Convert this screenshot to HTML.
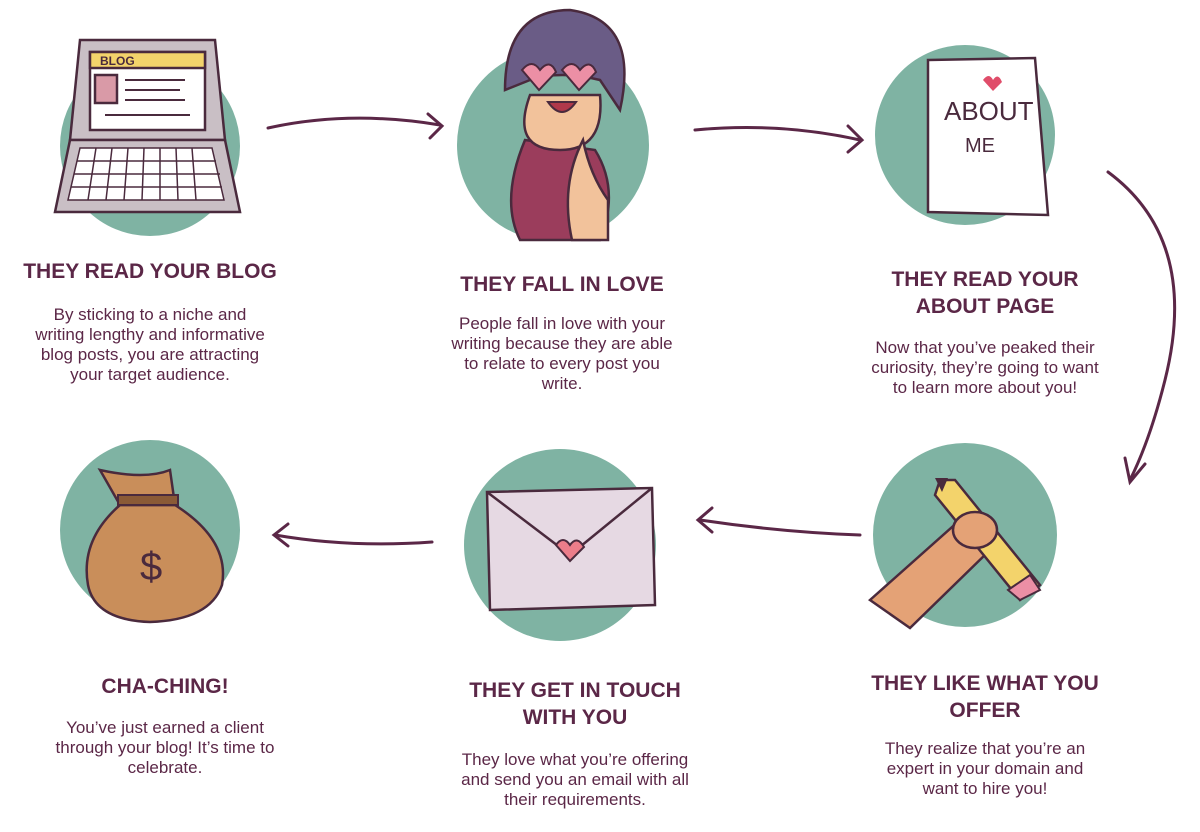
<!DOCTYPE html>
<html><head><meta charset="utf-8"><style>
body{margin:0;width:1200px;height:832px;background:#fff;position:relative;overflow:hidden;font-family:"Liberation Sans",sans-serif;color:#5b2747}
.t{position:absolute;text-align:center;font-weight:bold;font-size:21px;line-height:27px;color:#5b2747}
.b{position:absolute;text-align:center;font-size:17px;line-height:20px;color:#5b2747}
svg{position:absolute;left:0;top:0}
</style></head><body>
<svg width="1200" height="832" viewBox="0 0 1200 832">
<g fill="#7fb3a3">
<circle cx="150" cy="146" r="90"/><circle cx="553" cy="145" r="96"/><circle cx="965" cy="135" r="90"/>
<circle cx="965" cy="535" r="92"/><circle cx="560" cy="545" r="96"/><circle cx="150" cy="530" r="90"/>
</g>
<g fill="none" stroke="#5b2747" stroke-width="3" stroke-linecap="round">
<path d="M268 128 Q350 110 440 125"/><path d="M428 114 L442 126 L430 138"/>
<path d="M695 130 Q780 122 860 140"/><path d="M848 126 L862 140 L848 152"/>
<path d="M1108 172 Q1200 240 1165 380 Q1150 440 1130 480"/><path d="M1125 458 L1130 482 L1145 464"/>
<path d="M860 535 Q780 532 700 520"/><path d="M712 508 L698 520 L712 532"/>
<path d="M432 542 Q350 548 275 535"/><path d="M288 524 L274 535 L288 546"/>
</g>
<!-- laptop -->
<g stroke="#4a2a3d" stroke-width="2.5">
<path d="M80 40 L215 40 L225 140 L70 140 Z" fill="#c9bfc5"/>
<rect x="90" y="52" width="115" height="78" fill="#fff"/>
<rect x="90" y="52" width="115" height="16" fill="#f3d36b"/>
<path d="M70 140 L225 140 L240 212 L55 212 Z" fill="#c9bfc5"/>
<rect x="95" y="75" width="22" height="28" fill="#d99aa7"/>
</g>
<text x="100" y="65" font-size="12" font-weight="bold" fill="#4a2a3d" font-family="Liberation Sans">BLOG</text>
<g stroke="#4a2a3d" stroke-width="2"><path d="M125 80h60M125 90h55M125 100h60M105 115h85"/></g>
<g fill="#fff" stroke="#4a2a3d" stroke-width="1.5">
<path d="M80 148 L212 148 L224 200 L68 200 Z"/>
</g>
<g stroke="#4a2a3d" stroke-width="1.5" fill="none">
<path d="M77 161h139M74 174h146M71 187h151"/>
<path d="M96 148 L88 200M112 148 L106 200M128 148 L124 200M144 148 L142 200M160 148 L160 200M176 148 L178 200M192 148 L196 200"/>
</g>
<!-- girl -->
<path d="M525 140 Q500 200 520 240 L600 240 Q620 190 595 150 Z" fill="#9b3d5c" stroke="#4a2a3d" stroke-width="2.5"/>
<path d="M530 95 Q510 150 560 150 Q605 150 600 95 Z" fill="#f2c29b" stroke="#4a2a3d" stroke-width="2.5"/>
<path d="M505 90 Q505 10 570 10 Q640 20 620 110 L600 80 Q560 70 530 80 Z" fill="#6a5c86" stroke="#4a2a3d" stroke-width="2.5"/>
<g fill="#ec8fa5" stroke="#4a2a3d" stroke-width="2"><path d="M522 70 q10 -12 18 0 q10 -12 16 2 l-17 18 z"/><path d="M562 70 q10 -12 18 0 q10 -12 16 2 l-17 18 z"/></g>
<path d="M548 102 q14 20 28 0 z" fill="#b0384a" stroke="#4a2a3d" stroke-width="2"/>
<path d="M583 140 Q590 175 608 200 L608 240 L572 240 Q560 185 583 140Z" fill="#f2c29b" stroke="#4a2a3d" stroke-width="2.5"/>
<!-- about -->
<path d="M928 60 L1035 58 L1048 215 L928 212 Z" fill="#fff" stroke="#4a2a3d" stroke-width="2.5"/>
<text x="944" y="120" font-size="26" fill="#4a2a3d" font-family="Liberation Sans">ABOUT</text>
<text x="965" y="152" font-size="20" fill="#4a2a3d" font-family="Liberation Sans">ME</text>
<path d="M983 80 q6 -8 10 0 q5 -8 9 2 l-9 9 z" fill="#e04d6a"/>
<!-- pencil -->
<path d="M870 600 L960 520 L990 550 L910 628 Z" fill="#e4a276" stroke="#4a2a3d" stroke-width="2.5"/>
<path d="M940 480 L935 495 L1020 600 L1040 585 L955 480 Z" fill="#f3d36b" stroke="#4a2a3d" stroke-width="2.5"/>
<path d="M935 478 L948 478 L942 492Z" fill="#4a2a3d"/>
<path d="M1008 590 L1030 575 L1040 590 L1020 600Z" fill="#ec8fa5" stroke="#4a2a3d" stroke-width="2"/>
<ellipse cx="975" cy="530" rx="22" ry="18" fill="#e4a276" stroke="#4a2a3d" stroke-width="2.5"/>
<!-- envelope -->
<path d="M487 492 L652 488 L655 605 L490 610 Z" fill="#e6d9e3" stroke="#4a2a3d" stroke-width="2.5"/>
<path d="M487 492 L570 555 L652 488" fill="none" stroke="#4a2a3d" stroke-width="2.5"/>
<path d="M556 545 q7 -10 14 0 q7 -10 14 2 l-14 14 z" fill="#ec7d8a" stroke="#4a2a3d" stroke-width="2"/>
<!-- money bag -->
<path d="M120 505 Q80 540 88 585 Q95 620 150 622 Q210 620 222 585 Q230 540 175 505 Z" fill="#c98e5a" stroke="#4a2a3d" stroke-width="2.5"/>
<path d="M120 505 L100 470 Q145 480 170 470 L175 505Z" fill="#c98e5a" stroke="#4a2a3d" stroke-width="2.5"/>
<rect x="118" y="495" width="60" height="10" fill="#8a5a36" stroke="#4a2a3d" stroke-width="2"/>
<text x="140" y="580" font-size="40" fill="#4a2a3d" font-family="Liberation Sans">$</text>
</svg>
<div class="t" style="left:0;width:300px;top:258px">THEY READ YOUR BLOG</div>
<div class="b" style="left:0;width:300px;top:305px">By sticking to a niche and<br>writing lengthy and informative<br>blog posts, you are attracting<br>your target audience.</div>
<div class="t" style="left:412px;width:300px;top:271px">THEY FALL IN LOVE</div>
<div class="b" style="left:412px;width:300px;top:314px">People fall in love with your<br>writing because they are able<br>to relate to every post you<br>write.</div>
<div class="t" style="left:835px;width:300px;top:266px">THEY READ YOUR<br>ABOUT PAGE</div>
<div class="b" style="left:835px;width:300px;top:338px">Now that you’ve peaked their<br>curiosity, they’re going to want<br>to learn more about you!</div>
<div class="t" style="left:835px;width:300px;top:670px">THEY LIKE WHAT YOU<br>OFFER</div>
<div class="b" style="left:835px;width:300px;top:739px">They realize that you’re an<br>expert in your domain and<br>want to hire you!</div>
<div class="t" style="left:425px;width:300px;top:677px">THEY GET IN TOUCH<br>WITH YOU</div>
<div class="b" style="left:425px;width:300px;top:750px">They love what you’re offering<br>and send you an email with all<br>their requirements.</div>
<div class="t" style="left:15px;width:300px;top:673px">CHA-CHING!</div>
<div class="b" style="left:15px;width:300px;top:718px">You’ve just earned a client<br>through your blog! It’s time to<br>celebrate.</div>
</body></html>
